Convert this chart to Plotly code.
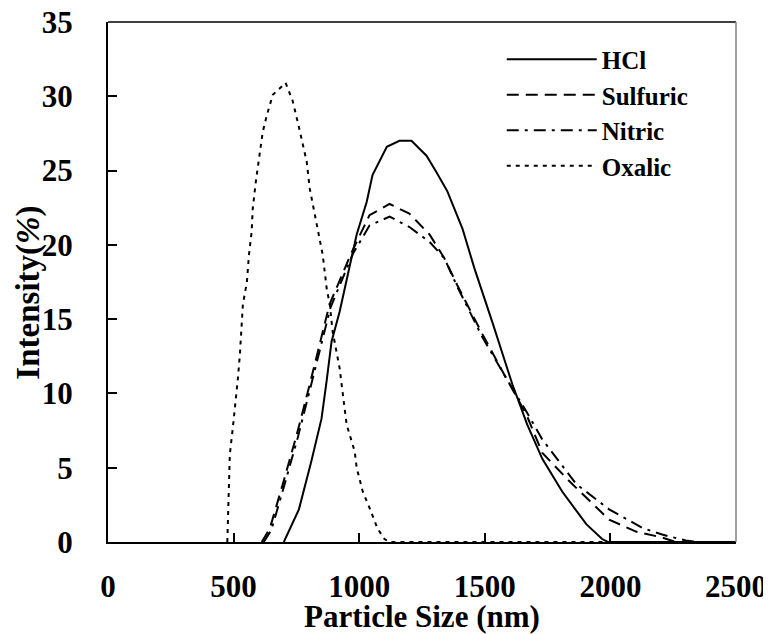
import plotly.graph_objects as go

# particle size (nm) / intensity (%)
hcl_size = [700, 760, 809, 850, 870, 890, 922, 990, 1030, 1053, 1110, 1160, 1208,
            1268, 1307, 1351, 1411, 1459, 1530, 1610, 1669, 1729, 1808, 1904, 1967, 1990, 2500]
hcl_int = [0, 2.2, 5.4, 8.3, 10.8, 13.5, 15.5, 20.7, 22.9, 24.7, 26.6, 27.0, 27.0,
           26.0, 24.9, 23.6, 21.1, 18.4, 14.8, 10.6, 7.9, 5.6, 3.4, 1.2, 0.2, 0, 0]

sulf_size = [612, 644, 696, 751, 803, 843, 882, 970, 1041, 1121, 1200, 1280, 1339,
             1390, 1490, 1586, 1665, 1729, 1836, 1995, 2102, 2206, 2260, 2500]
sulf_int = [0, 0.9, 3.9, 7.2, 10.6, 13.3, 16.0, 19.5, 22.0, 22.75, 22.1, 20.7, 19.1,
            17.3, 14.0, 11.0, 8.6, 6.0, 4.1, 1.5, 0.7, 0.3, 0, 0]

nitr_size = [620, 650, 700, 755, 806, 846, 886, 975, 1041, 1121, 1200, 1280, 1339,
             1390, 1490, 1586, 1665, 1729, 1864, 1995, 2127, 2206, 2300, 2350, 2500]
nitr_int = [0, 0.8, 3.7, 7.0, 10.4, 13.1, 15.8, 19.4, 21.3, 21.9, 21.2, 20.2, 19.1,
            17.2, 13.8, 11.0, 8.8, 6.9, 3.9, 2.2, 0.95, 0.5, 0.1, 0, 0]

oxa_size = [475, 485, 497, 509, 517, 525, 537, 553, 561, 572, 576, 588, 600, 616, 632,
            656, 707, 735, 759, 791, 803, 823, 835, 855, 871, 883, 894, 922, 950, 982,
            990, 1014, 1041, 1073, 1101, 1120, 2500]
oxa_int = [0, 5.9, 7.7, 9.5, 11.0, 12.6, 16.0, 17.5, 19.3, 20.9, 22.4, 24.2, 25.8, 27.6, 28.7,
           30.1, 30.9, 29.7, 28.0, 25.6, 23.8, 22.0, 20.9, 19.3, 17.0, 16.0, 14.2, 11.7, 7.9, 6.1,
           5.0, 3.4, 2.3, 0.9, 0.2, 0, 0]

x_ticks = [0, 500, 1000, 1500, 2000, 2500]
y_ticks = [0, 5, 10, 15, 20, 25, 30, 35]

FONT = "Liberation Serif"

fig = go.Figure()
series = [
    ("HCl", hcl_size, hcl_int, "solid"),
    ("Sulfuric", sulf_size, sulf_int, "12px,7px"),
    ("Nitric", nitr_size, nitr_int, "12px,6px,3px,6px"),
    ("Oxalic", oxa_size, oxa_int, "4px,5px"),
]
for name, xs, ys, dash in series:
    fig.add_trace(go.Scatter(
        x=xs, y=ys, name=name, mode="lines",
        line=dict(color="black", width=2, dash=dash),
    ))

axis_font = dict(family=FONT, size=31, color="black", weight="bold")
title_font = dict(family=FONT, size=31, color="black", weight="bold")

fig.update_layout(
    width=763, height=626,
    plot_bgcolor="white", paper_bgcolor="white",
    margin=dict(l=100, r=35, t=14, b=92),
    showlegend=True,
    legend=dict(
        x=0.627, y=0.972, xanchor="left", yanchor="top",
        font=dict(family=FONT, size=25, color="black", weight="bold"),
        bgcolor="rgba(0,0,0,0)", itemwidth=90, tracegroupgap=0,
    ),
    xaxis=dict(
        range=[0, 2500], tickvals=x_ticks, ticks="inside", ticklen=9,
        tickwidth=1.5, tickcolor="black", showgrid=False, zeroline=False,
        showline=True, linecolor="black", linewidth=2, automargin=False,
        tickfont=axis_font, ticklabelstandoff=16, ticklabeloverflow="allow",
    ),
    yaxis=dict(
        range=[0, 35], tickvals=y_ticks, ticks="inside", ticklen=9,
        tickwidth=1.5, tickcolor="black", showgrid=False, zeroline=False,
        showline=True, linecolor="black", linewidth=2, automargin=False,
        tickfont=axis_font, ticklabelstandoff=27, ticklabeloverflow="allow",
    ),
    annotations=[
        dict(text="Particle Size (nm)", xref="paper", yref="paper", x=0.5, y=-0.143,
             xanchor="center", yanchor="middle", showarrow=False, font=title_font),
        dict(text="Intensity(<i>%</i>)", xref="paper", yref="paper", x=-0.127, y=0.48,
             xanchor="center", yanchor="middle", showarrow=False, textangle=-90,
             font=dict(family=FONT, size=33, color="black", weight="bold")),
    ],
)

# top and right frame
fig.add_shape(type="line", xref="paper", yref="paper", x0=0, x1=1, y0=1, y1=1,
              line=dict(color="black", width=1.5))
fig.add_shape(type="line", xref="paper", yref="paper", x0=1, x1=1, y0=0, y1=1,
              line=dict(color="#808080", width=1.5))

fig.write_html("out.html")
